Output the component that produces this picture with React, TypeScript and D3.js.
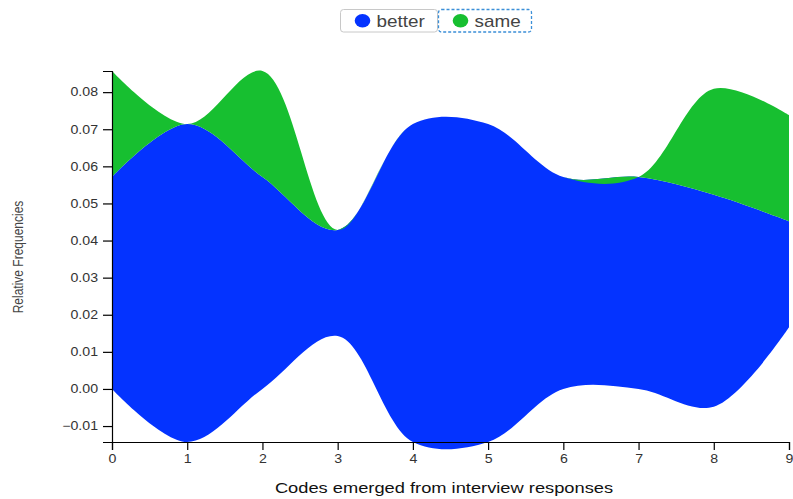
import React, { useEffect, useRef } from 'react';
import * as d3 from 'd3';

// codes 0..9 on the x axis
const codes = [0, 1, 2, 3, 4, 5, 6, 7, 8, 9];
const seriesNames = ['better', 'same'];
const betterValues = [0.0571, 0.0857, 0.0571, 0.0286, 0.0857, 0.0857, 0.0571, 0.0571, 0.0571, 0.0286];
const sameValues = [0.0286, 0, 0.0286, 0, 0, 0, 0, 0, 0.0286, 0.0286];
const seriesColors = ['#0433ff', '#17bf30'];
const yTicks = [-0.01, 0, 0.01, 0.02, 0.03, 0.04, 0.05, 0.06, 0.07, 0.08];

const W = 793;
const H = 499;
const SX = 1.18; // the picture is a bit wider than tall, text follows

const App: React.FC = () => {
  const svgRef = useRef<SVGSVGElement>(null);

  useEffect(() => {
    if (!svgRef.current) return;
    const svg = d3.select(svgRef.current);
    svg.selectAll('*').remove();

    const margin = { top: 71, right: 4, bottom: 57, left: 112 };
    const font = '"Liberation Sans", Arial, sans-serif';

    const rows = codes.map((c, i) => ({ code: c, better: betterValues[i], same: sameValues[i] }));
    const stack = d3.stack<any>()
      .keys(seriesNames)
      .offset(d3.stackOffsetWiggle);
    const layers = stack(rows);

    const yMin = d3.min(layers, l => d3.min(l, d => d[0])) as number;
    const yMax = d3.max(layers, l => d3.max(l, d => d[1])) as number;

    const x = d3.scaleLinear()
      .domain([0, 9])
      .range([margin.left, W - margin.right]);

    const y = d3.scaleLinear()
      .domain([yMin, yMax])
      .range([H - margin.bottom, margin.top]);

    const area = d3.area<any>()
      .x(d => x(d.data.code))
      .y0(d => y(d[0]))
      .y1(d => y(d[1]))
      .curve(d3.curveCatmullRom.alpha(0.5));

    svg.append('g')
      .selectAll('path')
      .data(layers)
      .enter()
      .append('path')
      .attr('d', d => area(d) as string)
      .attr('fill', (d, i) => seriesColors[i]);

    // X axis
    const xAxis = svg.append('g')
      .attr('transform', `translate(0,${H - margin.bottom})`)
      .call(d3.axisBottom(x).tickValues(codes).tickFormat(d3.format('d')).tickSize(8).tickPadding(4));
    xAxis.selectAll('text')
      .attr('font-size', 12)
      .attr('font-family', font)
      .attr('fill', '#333')
      .attr('transform', `scale(${SX},1)`);

    // Y axis
    const yAxis = svg.append('g')
      .attr('transform', `translate(${margin.left},0)`)
      .call(d3.axisLeft(y).tickValues(yTicks).tickFormat(d3.format('.2f')).tickSize(9));
    yAxis.selectAll('text')
      .attr('x', 0)
      .attr('font-size', 12)
      .attr('font-family', font)
      .attr('fill', '#333')
      .attr('transform', `translate(-14,0) scale(${SX},1)`);

    svg.selectAll('.domain').attr('stroke', '#000').attr('stroke-width', 1.2);
    svg.selectAll('.tick line').attr('stroke', '#000').attr('stroke-width', 1.2);

    // axis titles
    svg.append('text')
      .attr('transform', `translate(444,493) scale(${SX},1)`)
      .attr('text-anchor', 'middle')
      .attr('font-family', font)
      .attr('font-size', 15.5)
      .attr('fill', '#111')
      .text('Codes emerged from interview responses');

    svg.append('text')
      .attr('transform', `translate(23,257) scale(${SX},1) rotate(-90)`)
      .attr('text-anchor', 'middle')
      .attr('font-family', font)
      .attr('font-size', 12)
      .attr('fill', '#444')
      .text('Relative Frequencies');

    // Legend
    const legend = svg.append('g');
    const boxes = [
      { name: 'better', x0: 340, x1: 438, color: seriesColors[0], dashed: false },
      { name: 'same', x0: 438, x1: 532, color: seriesColors[1], dashed: true },
    ];
    boxes.forEach(b => {
      legend.append('rect')
        .attr('x', b.x0 + 0.5)
        .attr('y', 9.5)
        .attr('width', b.x1 - b.x0 - 1)
        .attr('height', 22.5)
        .attr('rx', 3)
        .attr('fill', '#fff')
        .attr('stroke', b.dashed ? '#3b8fd8' : '#c8c8c8')
        .attr('stroke-width', b.dashed ? 1.3 : 1)
        .attr('stroke-dasharray', b.dashed ? '3,2' : null);
      legend.append('ellipse')
        .attr('cx', b.x0 + 22.5)
        .attr('cy', 20.8)
        .attr('rx', 7.8)
        .attr('ry', 6.7)
        .attr('fill', b.color);
      legend.append('text')
        .attr('transform', `translate(${b.x0 + 36.5},26.5) scale(${SX},1)`)
        .attr('font-family', font)
        .attr('font-size', 16)
        .attr('fill', '#444')
        .text(b.name);
    });
  }, []);

  return (
    <svg
      ref={svgRef}
      width={W}
      height={H}
      style={{ position: 'absolute', left: 0, top: 0, background: '#fff' }}
    />
  );
};

export default App;
